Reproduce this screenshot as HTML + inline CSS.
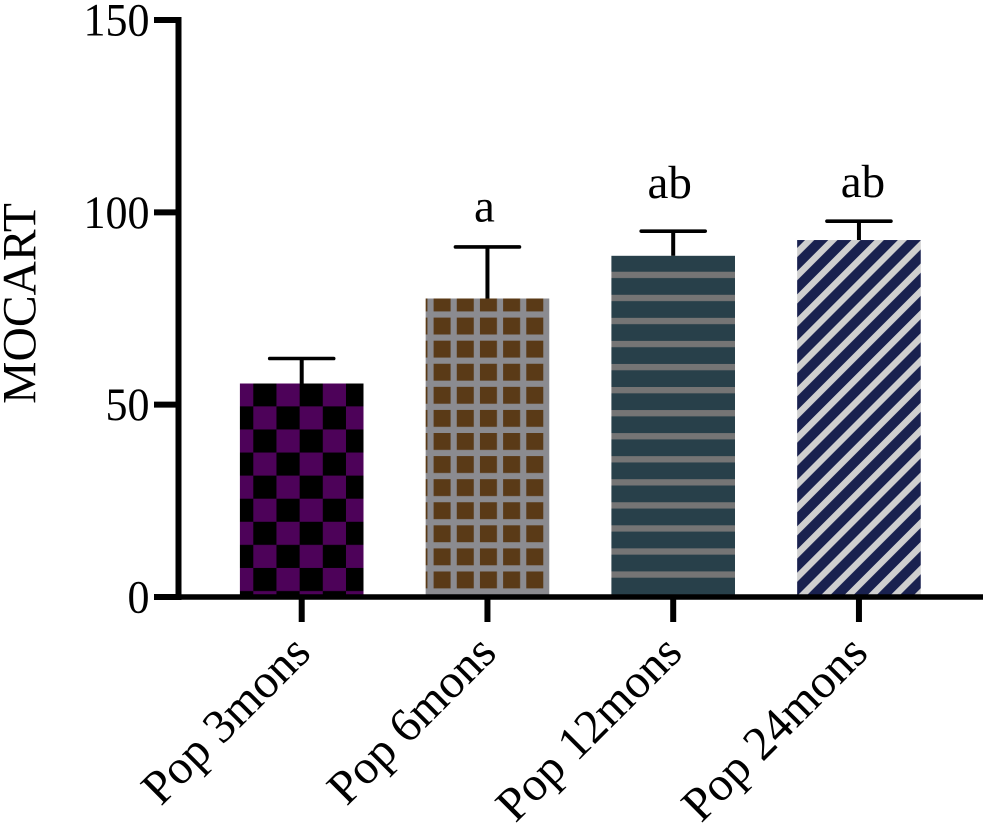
<!DOCTYPE html>
<html lang="en">
<head>
<meta charset="utf-8">
<title>MOCART bar chart</title>
<style>
html,body{margin:0;padding:0;background:#fff;}
svg{display:block;}
text{font-family:"Liberation Serif","Times New Roman",serif;fill:#000;}
</style>
</head>
<body>
<svg id="chart" xmlns="http://www.w3.org/2000/svg" width="986" height="827" viewBox="0 0 986 827">
  <defs>
    <pattern id="pat-checker" patternUnits="userSpaceOnUse" x="253.3" y="383.3" width="46.34" height="46.16">
      <rect width="46.34" height="46.16" fill="#4d0259"/>
      <rect x="0" y="0" width="23.17" height="23.08" fill="#000"/>
      <rect x="23.17" y="23.08" width="23.17" height="23.08" fill="#000"/>
    </pattern>
    <pattern id="pat-grid" patternUnits="userSpaceOnUse" x="433.6" y="317.6" width="23.17" height="23.08">
      <rect width="23.17" height="23.08" fill="#8b8b90"/>
      <rect x="0" y="0" width="17" height="16.9" fill="#5a3a17"/>
    </pattern>
    <pattern id="pat-stripes" patternUnits="userSpaceOnUse" x="0" y="271.75" width="10" height="23.05">
      <rect width="10" height="23.05" fill="#28404a"/>
      <rect x="0" y="0" width="10" height="6.3" fill="#757575"/>
    </pattern>
    <pattern id="pat-diagonal" patternUnits="userSpaceOnUse" x="0" y="0" width="16.4" height="16.4" patternTransform="rotate(45)">
      <rect width="16.4" height="16.4" fill="#19214f"/>
      <rect x="1" y="0" width="6.5" height="16.4" fill="#cfcfcf"/>
    </pattern>
  </defs>
  <g id="bars"></g>
  <g id="errors"></g>
  <g id="axes"></g>
  <g id="labels"></g>
</svg>
<script>
var categories = ['Pop 3mons', 'Pop 6mons', 'Pop 12mons', 'Pop 24mons'];
var barValues = [55.5, 77.6, 88.7, 92.8];
var errorTops = [62, 91, 95.1, 97.7];
var significance = ['', 'a', 'ab', 'ab'];
var yTicks = [0, 50, 100, 150];
var barFills = ['url(#pat-checker)', 'url(#pat-grid)', 'url(#pat-stripes)', 'url(#pat-diagonal)'];

var NS = 'http://www.w3.org/2000/svg';
function yScale(v) { return 597 - v * (577 / 150); }
function xScale(i) { return 301.7 + i * 185.75; }
function make(parent, tag, attrs) {
  var el = document.createElementNS(NS, tag);
  for (var k in attrs) el.setAttribute(k, attrs[k]);
  parent.appendChild(el);
  return el;
}
var barsG = document.getElementById('bars');
var errG = document.getElementById('errors');
var axesG = document.getElementById('axes');
var labelsG = document.getElementById('labels');
var BAR_W = 123.6, CAP_W = 64;

categories.forEach(function (c, i) {
  var cx = xScale(i), top = yScale(barValues[i]), et = yScale(errorTops[i]);
  var bar = make(barsG, 'rect', {x: cx - BAR_W / 2, y: top, width: BAR_W, height: yScale(0) - top, fill: barFills[i]});
  
  

  var stem = make(errG, 'line', {x1: cx, x2: cx, y1: top, y2: et, stroke: '#000', 'stroke-width': 4});
  
  
  var cap = make(errG, 'line', {x1: cx - CAP_W / 2, x2: cx + CAP_W / 2, y1: et, y2: et, stroke: '#000', 'stroke-width': 3.6, 'stroke-linecap': 'round'});
  
  

  var tick = make(axesG, 'line', {x1: cx, x2: cx, y1: yScale(0), y2: 622, stroke: '#000', 'stroke-width': 6});
  
  

  var tx = cx + 11, ty = 655;
  var lab = make(labelsG, 'text', {x: tx, y: ty, 'font-size': 48, 'text-anchor': 'end', transform: 'rotate(-45 ' + tx + ' ' + ty + ')'});
  lab.textContent = c;
  
  

  if (significance[i]) {
    var sigDx = [0, -3, -3.5, 4][i], sigDy = [0, -25.7, -33, -24.3][i];
    var sig = make(labelsG, 'text', {x: cx + sigDx, y: et + sigDy, 'font-size': 47, 'text-anchor': 'middle'});
    sig.textContent = significance[i];
    
    
  }
});

var yAxis = make(axesG, 'line', {x1: 178.5, x2: 178.5, y1: yScale(150) - 3, y2: yScale(0) + 3, stroke: '#000', 'stroke-width': 6});


var xAxis = make(axesG, 'line', {x1: 176, x2: 983, y1: yScale(0), y2: yScale(0), stroke: '#000', 'stroke-width': 5.5});



yTicks.forEach(function (t) {
  var y = yScale(t);
  var tl = make(axesG, 'line', {x1: 154, x2: 178, y1: y, y2: y, stroke: '#000', 'stroke-width': 6});
  
  
  var bx = 149.5, by = y + 15.5;
  var lb = make(labelsG, 'text', {x: 0, y: 0, 'font-size': 44, 'text-anchor': 'end', transform: 'translate(' + bx + ' ' + by + ') scale(1 1.07)'});
  lb.textContent = t;
  
  
});

var yTitle = make(labelsG, 'text', {x: 35.7, y: 303.5, 'font-size': 47.6, 'text-anchor': 'middle', transform: 'rotate(-90 35.7 303.5)'});
yTitle.textContent = 'MOCART';


</script>
</body>
</html>
